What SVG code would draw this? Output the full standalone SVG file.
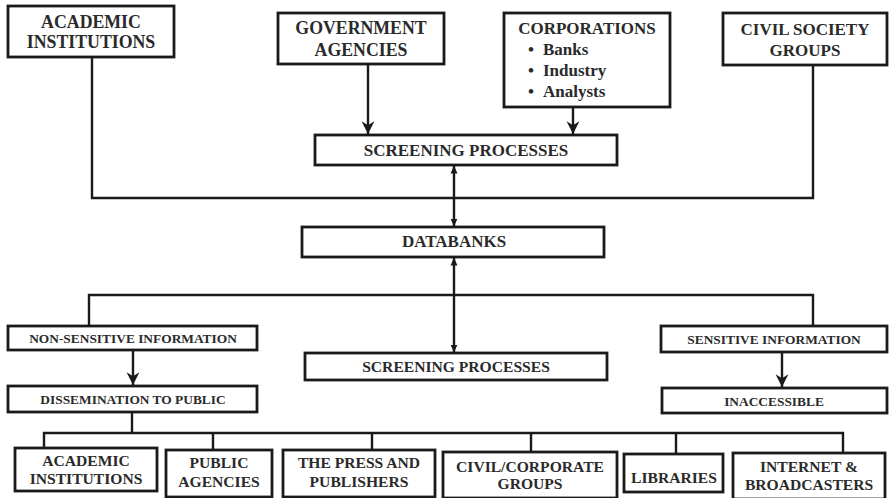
<svg xmlns="http://www.w3.org/2000/svg" width="889" height="498" viewBox="0 0 889 498">
<style>
.box{fill:#fff;stroke:#1a1a1a;stroke-width:2.8}
.ln{fill:none;stroke:#1a1a1a;stroke-width:2.4}
text{font-family:"Liberation Serif","Times New Roman",serif;font-weight:bold;fill:#2a2a2a;text-anchor:middle}
.t18{font-size:17.8px}
.t17{font-size:17px}
.t15{font-size:15.6px}
.t13{font-size:13.4px}
.lt{text-anchor:start}
</style>
<defs>
<marker id="arr" markerUnits="userSpaceOnUse" markerWidth="14" markerHeight="14" viewBox="0 0 12 12" refX="11" refY="6" orient="auto">
<path d="M0,0.5 L11,6 L0,11.5 L3.5,6 Z" fill="#1a1a1a"/>
</marker>
<marker id="tri" markerUnits="userSpaceOnUse" markerWidth="8" markerHeight="8" viewBox="0 0 8 8" refX="7.5" refY="4" orient="auto-start-reverse">
<path d="M0,0.5 L8,4 L0,7.5 Z" fill="#1a1a1a"/>
</marker>
</defs>

<g id="connectors">
<line class="ln" x1="368" y1="64" x2="368" y2="134" marker-end="url(#arr)"/>
<line class="ln" x1="573" y1="107" x2="573" y2="134" marker-end="url(#arr)"/>
<polyline class="ln" points="92,57 92,198 813,198 813,65"/>
<line class="ln" x1="454" y1="166" x2="454" y2="226" marker-start="url(#tri)" marker-end="url(#tri)"/>
<line class="ln" x1="454" y1="258" x2="454" y2="352" marker-start="url(#tri)" marker-end="url(#tri)"/>
<polyline class="ln" points="89,326 89,295 813,295 813,326"/>
<line class="ln" x1="133" y1="350" x2="133" y2="385" marker-end="url(#arr)"/>
<line class="ln" x1="782" y1="352" x2="782" y2="387" marker-end="url(#arr)"/>
<line class="ln" x1="132" y1="412" x2="132" y2="433"/>
<polyline class="ln" points="44,448 44,433 843,433 843,453"/>
<line class="ln" x1="213" y1="433" x2="213" y2="450"/>
<line class="ln" x1="372" y1="433" x2="372" y2="450"/>
<line class="ln" x1="531" y1="433" x2="531" y2="452"/>
<line class="ln" x1="676" y1="433" x2="676" y2="454"/>
</g>

<g id="academic-top">
<rect class="box" x="8" y="6" width="166" height="51"/>
<text class="t18" x="91" y="28">ACADEMIC</text>
<text class="t18" x="91" y="48">INSTITUTIONS</text>
</g>

<g id="government">
<rect class="box" x="278" y="13" width="166" height="51"/>
<text class="t18" x="361" y="34">GOVERNMENT</text>
<text class="t18" x="361" y="56">AGENCIES</text>
</g>

<g id="corporations">
<rect class="box" x="504" y="13" width="166" height="94"/>
<text class="t17" x="587" y="34">CORPORATIONS</text>
<text class="t17 lt" x="528" y="55">•</text>
<text class="t17 lt" x="543" y="55">Banks</text>
<text class="t17 lt" x="528" y="76">•</text>
<text class="t17 lt" x="543" y="76">Industry</text>
<text class="t17 lt" x="528" y="97">•</text>
<text class="t17 lt" x="543" y="97">Analysts</text>
</g>

<g id="civil-society">
<rect class="box" x="723" y="13" width="164" height="52"/>
<text class="t17" x="805" y="35">CIVIL SOCIETY</text>
<text class="t17" x="805" y="56">GROUPS</text>
</g>

<g id="screening-top">
<rect class="box" x="315" y="135" width="302" height="30"/>
<text class="t17" x="466" y="156">SCREENING PROCESSES</text>
</g>

<g id="databanks">
<rect class="box" x="302" y="227" width="302" height="30"/>
<text class="t17" x="454" y="247">DATABANKS</text>
</g>

<g id="non-sensitive">
<rect class="box" x="8" y="326" width="249" height="24"/>
<text class="t13" x="133" y="343">NON-SENSITIVE INFORMATION</text>
</g>

<g id="screening-bottom">
<rect class="box" x="305" y="353" width="302" height="27"/>
<text class="t15" x="456" y="372">SCREENING PROCESSES</text>
</g>

<g id="sensitive">
<rect class="box" x="661" y="326" width="226" height="26"/>
<text class="t13" x="774" y="344">SENSITIVE INFORMATION</text>
</g>

<g id="dissemination">
<rect class="box" x="8" y="386" width="249" height="26"/>
<text class="t13" x="133" y="404">DISSEMINATION TO PUBLIC</text>
</g>

<g id="inaccessible">
<rect class="box" x="662" y="388" width="225" height="25"/>
<text class="t13" x="774" y="406">INACCESSIBLE</text>
</g>

<g id="academic-bottom">
<rect class="box" x="15" y="448" width="142" height="43"/>
<text class="t15" x="86" y="466">ACADEMIC</text>
<text class="t15" x="86" y="484">INSTITUTIONS</text>
</g>

<g id="public-agencies">
<rect class="box" x="166" y="450" width="106" height="47"/>
<text class="t15" x="219" y="468">PUBLIC</text>
<text class="t15" x="219" y="487">AGENCIES</text>
</g>

<g id="press">
<rect class="box" x="283" y="450" width="152" height="47"/>
<text class="t15" x="359" y="468">THE PRESS AND</text>
<text class="t15" x="359" y="487">PUBLISHERS</text>
</g>

<g id="civil-corporate">
<rect class="box" x="443" y="452" width="174" height="46"/>
<text class="t15" x="530" y="472">CIVIL/CORPORATE</text>
<text class="t15" x="530" y="489">GROUPS</text>
</g>

<g id="libraries">
<rect class="box" x="624" y="454" width="99" height="38"/>
<text class="t15" x="674" y="483">LIBRARIES</text>
</g>

<g id="internet">
<rect class="box" x="733" y="453" width="152" height="46"/>
<text class="t15" x="809" y="472">INTERNET &amp;</text>
<text class="t15" x="809" y="490">BROADCASTERS</text>
</g>
</svg>
